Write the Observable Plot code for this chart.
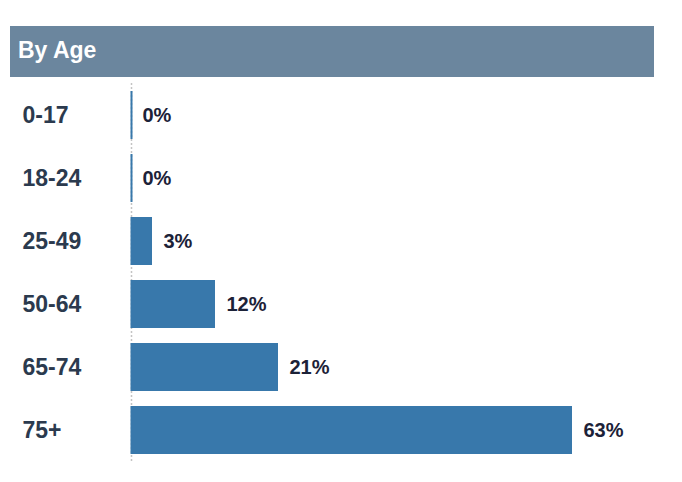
<!DOCTYPE html>
<html>
<head>
<meta charset="utf-8">
<script src="https://cdn.jsdelivr.net/npm/d3@7"></script>
<script src="https://cdn.jsdelivr.net/npm/@observablehq/plot@0.6"></script>
<style>
  body { margin: 0; background: #fff; font-family: "Liberation Sans", Arial, sans-serif; }
  #header { position: absolute; left: 10px; top: 26px; width: 644px; height: 51px; background: #6b869e; color: #fff;
    font-weight: bold; font-size: 23px; line-height: 49px; padding-left: 8px; box-sizing: border-box; }
  #chart { position: absolute; left: 0; top: 77px; }
</style>
</head>
<body>
<div id="header">By Age</div>
<div id="chart"></div>
<script>
const ageGroups = ["0-17", "18-24", "25-49", "50-64", "65-74", "75+"];
const shares = [0, 0, 3, 12, 21, 63];
const valueLabels = ["0%", "0%", "3%", "12%", "21%", "63%"];

const data = ageGroups.map((g, i) => ({group: g, value: shares[i], label: valueLabels[i]}));

const chart = Plot.plot({
  width: 682,
  height: 390,
  marginLeft: 131,
  marginRight: 61,
  marginTop: 6,
  marginBottom: 6,
  style: {fontFamily: "Liberation Sans, Arial, sans-serif", background: "transparent"},
  x: {domain: [0, 70], axis: null},
  y: {domain: ageGroups, axis: null, paddingInner: 0.24, paddingOuter: 0.12},
  marks: [
    Plot.ruleX([0], {stroke: "#c4c4c4", strokeWidth: 1.5, strokeDasharray: "2,2"}),
    Plot.barX(data, {x: "value", y: "group", fill: "#3878ab"}),
    Plot.tickX(data, {x: 0, y: "group", stroke: "#3878ab", strokeWidth: 2}),
    Plot.text(data, {y: "group", text: "group", frameAnchor: "left", dx: -109, textAnchor: "start",
      fontSize: 23, fontWeight: "bold", fill: "#2b3a4e"}),
    Plot.text(data, {x: "value", y: "group", text: "label", dx: 11, textAnchor: "start",
      fontSize: 20, fontWeight: "bold", fill: "#1c2238"})
  ]
});
document.getElementById("chart").appendChild(chart);
</script>
</body>
</html>
